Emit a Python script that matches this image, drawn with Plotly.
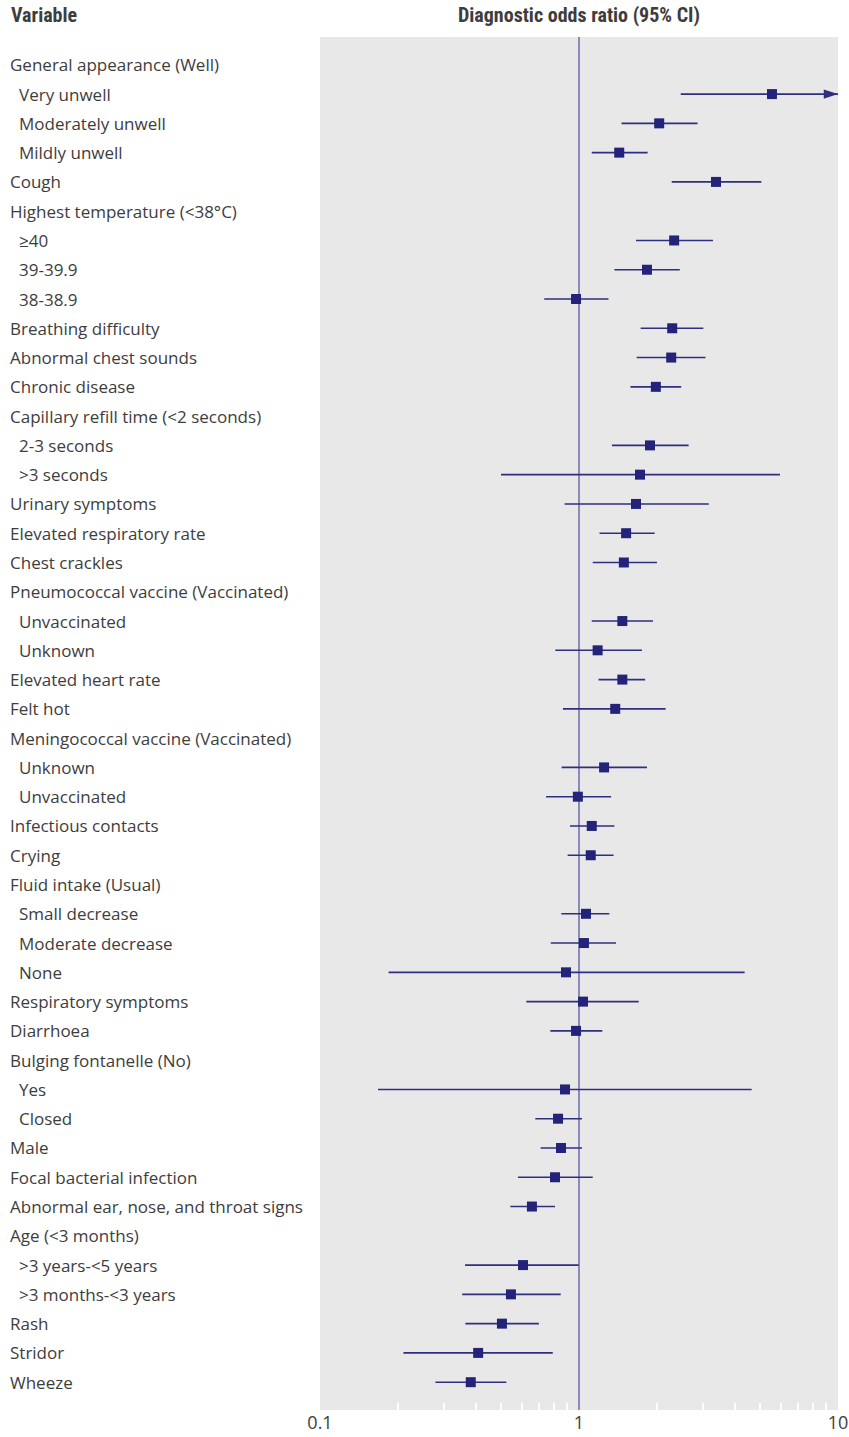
import plotly.graph_objects as go

# Row labels, top to bottom; headers (reference category) carry no estimate
labels = [
    "General appearance (Well)", "Very unwell", "Moderately unwell", "Mildly unwell",
    "Cough", "Highest temperature (<38°C)", "≥40", "39-39.9", "38-38.9",
    "Breathing difficulty", "Abnormal chest sounds", "Chronic disease",
    "Capillary refill time (<2 seconds)", "2-3 seconds", ">3 seconds",
    "Urinary symptoms", "Elevated respiratory rate", "Chest crackles",
    "Pneumococcal vaccine (Vaccinated)", "Unvaccinated", "Unknown",
    "Elevated heart rate", "Felt hot", "Meningococcal vaccine (Vaccinated)",
    "Unknown", "Unvaccinated", "Infectious contacts", "Crying",
    "Fluid intake (Usual)", "Small decrease", "Moderate decrease", "None",
    "Respiratory symptoms", "Diarrhoea", "Bulging fontanelle (No)", "Yes", "Closed",
    "Male", "Focal bacterial infection", "Abnormal ear, nose, and throat signs",
    "Age (<3 months)", ">3 years-<5 years", ">3 months-<3 years", "Rash",
    "Stridor", "Wheeze",
]

# 1 = sub-level of the preceding variable (indented)
indent = [
    0, 1, 1, 1, 0, 0, 1, 1, 1, 0, 0, 0, 0, 1, 1, 0, 0, 0, 0, 1, 1, 0, 0, 0,
    1, 1, 0, 0, 0, 1, 1, 1, 0, 0, 0, 1, 1, 0, 0, 0, 0, 1, 1, 0, 0, 0,
]

# Diagnostic odds ratio and 95% CI (hi = None with an estimate: open-ended above 10)
odds = [
    None, 5.56, 2.04, 1.43, 3.38, None, 2.33, 1.83, 0.974, 2.29, 2.27, 1.98,
    None, 1.88, 1.72, 1.66, 1.52, 1.49, None, 1.47, 1.18, 1.47, 1.38, None,
    1.25, 0.99, 1.12, 1.11, None, 1.064, 1.045, 0.891, 1.036, 0.974, None,
    0.883, 0.83, 0.852, 0.808, 0.658, None, 0.608, 0.546, 0.504, 0.408, 0.382,
]
ci_low = [
    None, 2.47, 1.46, 1.12, 2.28, None, 1.66, 1.37, 0.734, 1.73, 1.67, 1.58,
    None, 1.34, 0.50, 0.88, 1.20, 1.13, None, 1.12, 0.81, 1.19, 0.867, None,
    0.857, 0.746, 0.923, 0.904, None, 0.855, 0.778, 0.184, 0.626, 0.775, None,
    0.1675, 0.678, 0.711, 0.581, 0.543, None, 0.363, 0.354, 0.364, 0.21, 0.279,
]
ci_high = [
    None, None, 2.87, 1.84, 5.06, None, 3.29, 2.45, 1.30, 3.02, 3.08, 2.48,
    None, 2.65, 5.97, 3.17, 1.96, 2.00, None, 1.93, 1.75, 1.80, 2.16, None,
    1.83, 1.33, 1.37, 1.36, None, 1.31, 1.39, 4.36, 1.70, 1.23, None,
    4.64, 1.027, 1.027, 1.13, 0.808, None, 0.997, 0.85, 0.70, 0.792, 0.524,
]

x_ticks = [0.1, 1, 10]
x_tick_text = ["0.1", "1", "10"]
minor_ticks = [0.2, 0.3, 0.4, 0.5, 0.6, 0.7, 0.8, 0.9, 2, 3, 4, 5, 6, 7, 8, 9]
X_MIN, X_MAX = 0.1, 10

NAVY = "#23237a"
CI_COLOR = "#2f2f82"
REF_COLOR = "#8b8bbb"
TEXT = "#3d3d3d"
LABEL_FONT = "Open Sans, Noto Sans, sans-serif"
HEAD_FONT = "Roboto Condensed, Liberation Sans Narrow, DejaVu Sans Condensed, Roboto, sans-serif"

W, H = 849, 1437
ML, MR, MT, MB = 320, 11, 37, 27
plot_w = W - ML - MR

rows = list(range(len(labels)))

# CI segments
seg_x, seg_y = [], []
arrow_x, arrow_y = [], []
for i in rows:
    if odds[i] is None:
        continue
    hi = ci_high[i] if ci_high[i] is not None else X_MAX
    seg_x += [ci_low[i], hi, None]
    seg_y += [i, i, None]
    if ci_high[i] is None:
        arrow_x.append(X_MAX)
        arrow_y.append(i)

pt_x = [odds[i] for i in rows if odds[i] is not None]
pt_y = [i for i in rows if odds[i] is not None]

fig = go.Figure()
fig.add_trace(go.Scatter(
    x=seg_x, y=seg_y, mode="lines",
    line=dict(color=CI_COLOR, width=1.6),
    hoverinfo="skip", showlegend=False,
))
fig.add_trace(go.Scatter(
    x=arrow_x, y=arrow_y, mode="markers",
    marker=dict(symbol="arrow", angle=90, size=15, color=CI_COLOR,
                line=dict(width=0)),
    cliponaxis=False, hoverinfo="skip", showlegend=False,
))
fig.add_trace(go.Scatter(
    x=pt_x, y=pt_y, mode="markers",
    marker=dict(symbol="square", size=10, color=NAVY, line=dict(width=0)),
    showlegend=False,
))

# line of no effect
fig.add_shape(type="line", xref="x", yref="paper", x0=1, x1=1, y0=0, y1=1,
              line=dict(color=REF_COLOR, width=2), layer="below")

# row labels
for i in rows:
    fig.add_annotation(
        x=(8 + 9 * indent[i] - ML) / plot_w, xref="paper",
        y=i, yref="y", text=labels[i], showarrow=False,
        xanchor="left", yanchor="middle",
        font=dict(family=LABEL_FONT, size=17, color=TEXT),
    )

# column headers
fig.add_annotation(x=(9 - ML) / plot_w, xref="paper", y=1, yref="paper",
                   yshift=MT - 15, text="<b>Variable</b>", showarrow=False,
                   xanchor="left", yanchor="middle",
                   font=dict(family=HEAD_FONT, size=20, color=TEXT))
fig.add_annotation(x=0.5, xref="paper", y=1, yref="paper", yshift=MT - 15,
                   text="<b>Diagnostic odds ratio (95% CI)</b>", showarrow=False,
                   xanchor="center", yanchor="middle",
                   font=dict(family=HEAD_FONT, size=20, color=TEXT))

fig.update_xaxes(
    type="log", range=[-1, 1], tickvals=x_ticks, ticktext=x_tick_text,
    ticks="", showgrid=False, zeroline=False, showline=False, automargin=False,
    tickfont=dict(family=LABEL_FONT, size=18, color=TEXT),
    minor=dict(ticks="inside", ticklen=7, tickwidth=1.5, tickcolor="white",
               tickvals=minor_ticks, showgrid=False),
)
fig.update_yaxes(
    range=[len(labels) - 0.05, -0.95], showticklabels=False, ticks="",
    showgrid=False, zeroline=False, showline=False, automargin=False,
)
fig.update_layout(
    width=W, height=H, autosize=False,
    margin=dict(l=ML, r=MR, t=MT, b=MB, pad=0, autoexpand=False),
    plot_bgcolor="#e8e8e8", paper_bgcolor="white",
)

fig.write_html("out.html")
